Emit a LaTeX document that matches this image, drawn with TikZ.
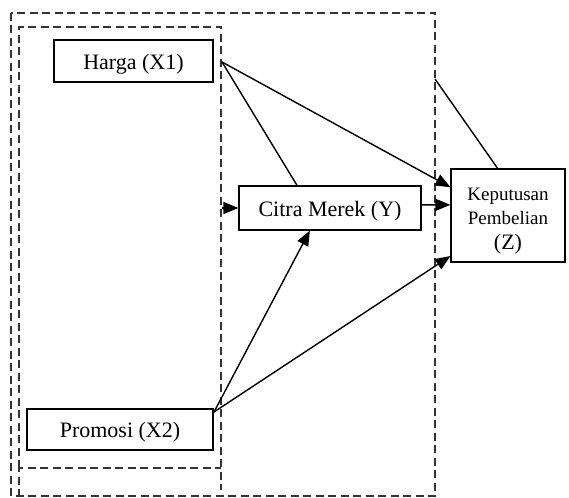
\documentclass[tikz,border=0pt]{standalone}
\usepackage{fontspec}
\setmainfont{Liberation Serif}
\usetikzlibrary{arrows.meta,calc}
\begin{document}
\begin{tikzpicture}[x=1pt,y=-1pt,
  box/.style={draw=black,line width=1.2pt,inner sep=0pt,font=\fontsize{22}{26}\selectfont},
  onebox/.style={box,text height=21pt,text depth=4.5pt},
  frame/.style={draw=black!80,line width=1.2pt,dash pattern=on 8pt off 4.5pt},
  link/.style={draw=black,line width=1.4pt},
  arr/.style={link,-{Triangle[length=15pt,width=12pt]}}]
\useasboundingbox (0,0) rectangle (569,497);
% dashed frames
\draw[frame] (11,13) rectangle (435,496);
\draw[frame] (19,468) -- (19,27) -- (221,27) -- (221,490);
\draw[frame] (19,497) -- (19,468) -- (221,468);
% boxes
\node[onebox,minimum width=159pt,minimum height=42pt] (harga) at (133.5,61) {Harga (X1)};
\node[onebox,minimum width=186pt,minimum height=41pt] (promosi) at (120,429.5) {Promosi (X2)};
\node[onebox,minimum width=182pt,minimum height=44pt] (citra) at (330,208) {Citra Merek (Y)};
\node[box,minimum width=114pt,minimum height=93pt,align=center,font=\fontsize{19}{24.5}\selectfont] (kep) at (508,215.5) {\rule{0pt}{23pt}Keputusan\\Pembelian\\{\fontsize{22}{24.5}\selectfont (Z)}};
% free ends
\coordinate (h1) at (222,62);
\coordinate (p1) at (214,412);
\coordinate (o1) at (435,79);
\coordinate (i1) at (222,208);
% connectors
\draw[arr] (h1) -- ($(kep.north west)!0.2!(kep.south west)$);
\draw[link] (h1) -- ($(citra.north west)!0.32!(citra.north east)$);
\draw[arr] (p1) -- ($(citra.south west)!0.39!(citra.south east)$);
\draw[arr] (p1) -- ($(kep.north west)!0.93!(kep.south west)$);
\draw[arr] ($(citra.north east)!0.43!(citra.south east)$) -- ($(kep.north west)!0.387!(kep.south west)$);
\draw[arr] (i1) -- (i1 -| citra.west);
\draw[link] (o1) -- ($(kep.north west)!0.41!(kep.north east)$);
\end{tikzpicture}
\end{document}
